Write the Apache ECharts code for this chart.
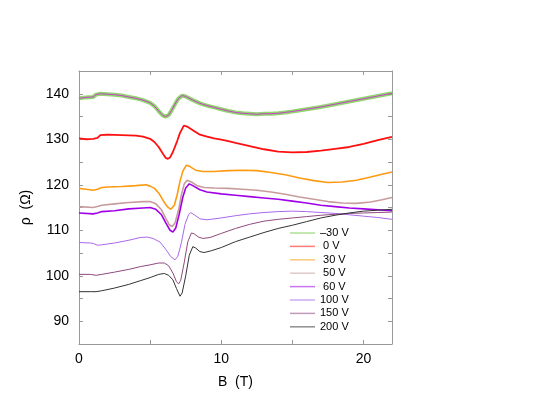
<!DOCTYPE html>
<html>
<head>
<meta charset="utf-8">
<script src="https://cdn.jsdelivr.net/npm/echarts@6/dist/echarts.min.js"></script>
<style>
  html, body { margin: 0; padding: 0; background: #fff; }
  #main { width: 538px; height: 416px; }
</style>
</head>
<body>
<div id="main"></div>
<script>
// rho (Ohm) vs B (T)
const vM30 = [[0,139.0],[0.5,139.2],[1.0,139.3],[1.2,139.8],[1.5,140.0],[2,139.9],[2.5,139.8],[3,139.6],[3.5,139.3],[4,139.0],[4.5,138.6],[5,138.0],[5.3,137.3],[5.6,136.2],[5.9,135.2],[6.1,135.0],[6.3,135.3],[6.5,136.3],[6.8,138.0],[7.0,139.0],[7.25,139.6],[7.5,139.4],[8,138.6],[8.5,137.9],[9,137.4],[9.5,137.0],[10,136.6],[10.5,136.2],[11,135.9],[11.5,135.7],[12,135.6],[12.5,135.5],[13,135.6],[13.5,135.6],[14,135.7],[14.5,135.9],[15,136.1],[16,136.6],[17,137.1],[18,137.7],[19,138.3],[20,138.9],[21,139.5],[22,140.1]]
const v0 = [[0,130.2],[0.5,130.0],[1.0,130.1],[1.3,130.3],[1.5,130.9],[2,131.0],[3,130.9],[4,130.8],[4.5,130.6],[5,130.1],[5.3,129.4],[5.6,128.3],[5.9,126.8],[6.1,125.9],[6.25,125.7],[6.4,126.0],[6.6,127.2],[6.9,129.6],[7.1,131.4],[7.37,133.0],[7.6,132.8],[8,132.0],[8.5,131.0],[9,130.6],[9.5,130.2],[10,129.9],[10.5,129.6],[11,129.2],[12,128.5],[13,127.8],[14,127.3],[15,127.1],[16,127.2],[17,127.5],[18,127.9],[19,128.3],[20,129.0],[21,129.8],[22,130.5]]
const v30 = [[0,119.2],[0.5,119.0],[1.0,118.8],[1.3,119.0],[1.6,119.4],[2,119.5],[3,119.6],[4,119.8],[4.7,120.0],[5,119.7],[5.3,119.2],[5.6,118.2],[5.9,116.6],[6.2,115.2],[6.46,114.6],[6.7,115.5],[6.9,117.8],[7.1,120.8],[7.3,123.0],[7.55,124.3],[7.8,124.0],[8.2,123.2],[8.7,122.9],[9.5,122.9],[10.5,123.1],[11.5,123.2],[12.5,123.1],[13.5,122.7],[14.5,122.2],[15.5,121.5],[16.5,120.9],[17.5,120.5],[18.5,120.6],[19.5,121.0],[20.5,121.7],[21.3,122.3],[22,122.8]]
const v50 = [[0,115.2],[1.0,115.0],[1.3,115.2],[1.6,115.5],[2.5,115.8],[3.5,116.1],[4.5,116.3],[5.0,116.3],[5.4,115.8],[5.8,114.5],[6.1,112.6],[6.35,111.2],[6.55,110.8],[6.75,111.6],[7.0,114.5],[7.2,117.8],[7.4,120.2],[7.6,121.0],[7.9,120.6],[8.3,119.8],[8.8,119.4],[9.5,119.3],[10.5,119.2],[11.5,119.0],[12.5,118.8],[13.5,118.4],[14.5,117.9],[15.5,117.3],[16.5,116.8],[17.5,116.3],[18.5,116.0],[19.5,115.9],[20.5,116.2],[21.3,116.7],[22,117.2]]
const v60 = [[0,113.8],[1.0,113.6],[1.3,113.8],[1.6,114.1],[2.5,114.3],[3.5,114.7],[4.5,114.9],[5.0,115.0],[5.4,114.6],[5.8,113.4],[6.1,111.6],[6.4,110.0],[6.6,109.6],[6.8,110.5],[7.05,113.6],[7.3,117.3],[7.5,119.3],[7.75,120.2],[8.0,119.8],[8.5,118.9],[9.0,118.4],[10,118.0],[11,117.7],[12,117.4],[13,117.1],[14,116.8],[15,116.4],[16,116.0],[17,115.5],[18,115.2],[19,114.9],[20,114.7],[21,114.5],[22,114.3]]
const v100 = [[0,107.3],[0.8,107.2],[1.0,107.1],[1.3,106.7],[1.6,106.8],[2.5,107.2],[3.5,107.8],[4.3,108.4],[4.8,108.5],[5.2,108.2],[5.7,107.4],[6.1,105.8],[6.45,104.2],[6.75,103.5],[6.95,104.3],[7.2,107.3],[7.45,111.3],[7.7,113.4],[7.85,113.9],[8.1,113.4],[8.5,112.5],[9.0,112.3],[10,112.7],[11,113.2],[12,113.6],[13,113.9],[14,114.1],[15,114.2],[16,114.1],[17,113.9],[18,113.7],[19,113.4],[20,113.1],[21,112.8],[22,112.4]]
const v150 = [[0,100.3],[0.8,100.3],[1.2,100.1],[1.6,100.3],[2.5,100.8],[3.5,101.4],[4.3,102.0],[5.0,102.4],[5.6,102.8],[6.0,102.8],[6.3,102.2],[6.6,100.6],[6.85,98.7],[7.0,98.2],[7.15,99.0],[7.4,103.0],[7.65,107.5],[7.9,109.4],[8.1,109.2],[8.4,108.5],[8.7,108.2],[9.2,108.4],[10,109.3],[11,110.4],[12,111.3],[13,112.0],[14,112.4],[15,112.7],[16,113.0],[17,113.3],[18,113.5],[19,113.7],[20,113.8],[21,113.9],[22,114.0]]
const v200 = [[0,96.5],[0.8,96.5],[1.2,96.5],[1.6,96.7],[2.5,97.3],[3.5,98.1],[4.3,98.9],[5.0,99.6],[5.6,100.3],[6.0,100.5],[6.3,100.1],[6.6,99.1],[6.85,97.2],[7.1,95.5],[7.25,96.2],[7.5,100.0],[7.75,104.5],[8.0,106.4],[8.2,106.1],[8.5,105.3],[8.8,105.1],[9.3,105.5],[10,106.2],[11,107.5],[12,108.5],[13,109.5],[14,110.4],[15,111.1],[16,111.9],[17,112.7],[18,113.3],[19,113.8],[20,114.2],[21,114.4],[22,114.6]]

const legendNames = ['\u201330 V', ' 0 V', ' 30 V', ' 50 V', ' 60 V', '100 V', '150 V', '200 V']

var font = 'Liberation Sans, Arial, sans-serif'
var frame = '#999'

function line(name, data, color, width, opacity) {
  return {
    name: name,
    type: 'line',
    data: data,
    symbol: 'none',
    animation: false,
    lineStyle: { color: color, width: width, opacity: opacity || 1 },
    itemStyle: { color: color }
  }
}

function xAx(pos, labels) {
  return {
    type: 'value', position: pos, min: 0, max: 22, interval: 5,
    name: labels ? 'B  (T)' : '', nameLocation: 'middle', nameGap: 31,
    nameTextStyle: { fontFamily: font, fontSize: 14, color: '#000' },
    axisLine: { show: true, onZero: false, lineStyle: { color: frame } },
    axisTick: { show: true, inside: true, length: 4, lineStyle: { color: frame } },
    axisLabel: { show: labels, margin: 8, fontFamily: font, fontSize: 14, color: '#000',
      formatter: function (v) { return v % 10 === 0 ? v : '' } },
    splitLine: { show: false }
  }
}

function yAx(pos, labels) {
  return {
    type: 'value', position: pos, min: 85, max: 145, interval: 5,
    name: labels ? '\u03c1  (\u03a9)' : '', nameLocation: 'middle', nameGap: 46, nameRotate: 90,
    nameTextStyle: { fontFamily: font, fontSize: 14, color: '#000' },
    axisLine: { show: true, onZero: false, lineStyle: { color: frame } },
    axisTick: { show: true, inside: true, length: 4, lineStyle: { color: frame } },
    axisLabel: { show: labels, margin: 10, fontFamily: font, fontSize: 14, color: '#000',
      formatter: function (v) { return v % 10 === 0 ? v : '' } },
    splitLine: { show: false }
  }
}

var myChart = echarts.init(document.getElementById('main'))
myChart.setOption({
  animation: false,
  grid: { left: 79, right: 146, top: 71, bottom: 72, outerBoundsMode: 'none' },
  xAxis: [xAx('bottom', true), xAx('top', false)],
  yAxis: [yAx('left', true), yAx('right', false)],
  legend: {
    data: legendNames,
    orient: 'vertical',
    left: 290,
    top: 227,
    padding: 0,
    icon: 'rect',
    itemWidth: 25,
    itemHeight: 1.5,
    itemGap: 1.4,
    itemStyle: { opacity: 0.55 },
    textStyle: { fontFamily: font, fontSize: 11, color: '#000', lineHeight: 12 }
  },
  series: [
    line(legendNames[0], vM30, '#6cc840', 4, 0.75),
    line('smooth', vM30, '#c840c8', 1),
    line(legendNames[1], v0, '#ff1010', 1.8),
    line(legendNames[2], v30, '#ff9a10', 1.6),
    line(legendNames[3], v50, '#c89c9c', 1.6),
    line(legendNames[4], v60, '#a000e8', 1.6),
    line(legendNames[5], v100, '#a868ec', 1),
    line(legendNames[6], v150, '#8e4a7e', 1),
    line(legendNames[7], v200, '#333333', 1)
  ]
})
</script>
</body>
</html>
